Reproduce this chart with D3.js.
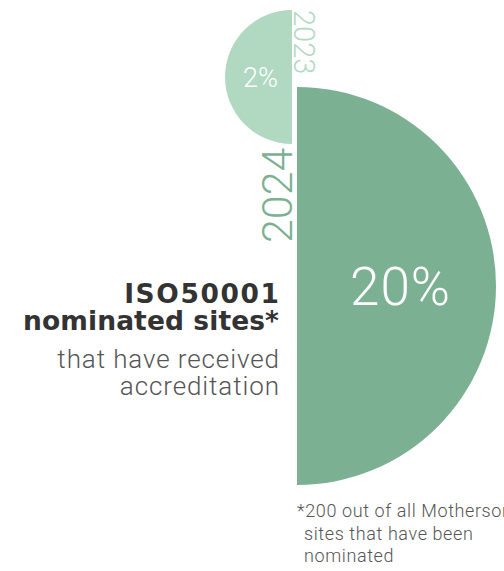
<!DOCTYPE html>
<html>
<head>
<meta charset="utf-8">
<script src="https://cdn.jsdelivr.net/npm/d3@7"></script>
<style>
  html, body { margin: 0; padding: 0; background: #fff; }
  svg { display: block; }
</style>
</head>
<body>
<div id="chart"></div>
<script>
// ---- data ----
const years = ["2023", "2024"];
const values = [2, 20];
const valueLabels = ["2%", "20%"];
const titleLines = ["ISO50001", "nominated sites*"];
const subtitleLines = ["that have received", "accreditation"];
const footnoteLines = ["*200 out of all Motherson", "sites that have been", "nominated"];

// ---- layout ----
const W = 504, H = 571;
const colors = ["#b1d9c2", "#7bb192"];
const thin = "Roboto, 'Open Sans', sans-serif";

const svg = d3.select("#chart").append("svg")
  .attr("width", W).attr("height", H);

const r = d3.scalePow().exponent(0.473).domain([0, 20]).range([0, 199]);

// 2023 : left half, 2024 : right half
const r0 = r(values[0]), r1 = r(values[1]);
const c0 = { x: 292, y: 10 + r0 };
const c1 = { x: 297, y: c0.y + 10 + r1 };

const arc = d3.arc().innerRadius(0);

// 2023 half
svg.append("path")
  .attr("transform", `translate(${c0.x},${c0.y})`)
  .attr("d", arc({ outerRadius: r0, startAngle: Math.PI, endAngle: 2 * Math.PI }))
  .attr("fill", colors[0]);

// 2024 half
svg.append("path")
  .attr("transform", `translate(${c1.x},${c1.y})`)
  .attr("d", arc({ outerRadius: r1, startAngle: 0, endAngle: Math.PI }))
  .attr("fill", colors[1]);

// value labels
svg.append("text")
  .attr("x", c0.x - r0 * 0.47).attr("y", c0.y + 10)
  .attr("text-anchor", "middle")
  .attr("font-family", thin).attr("font-weight", 300)
  .attr("font-size", 27).attr("fill", "#fff")
  .text(valueLabels[0]);

svg.append("text")
  .attr("x", c1.x + r1 * 0.52).attr("y", c1.y + 19)
  .attr("text-anchor", "middle")
  .attr("font-family", thin).attr("font-weight", 300)
  .attr("font-size", 53).attr("letter-spacing", 1).attr("fill", "#fff")
  .text(valueLabels[1]);

// year labels
svg.append("text")
  .attr("transform", `translate(${c0.x + 2},10) rotate(90)`)
  .attr("text-anchor", "start")
  .attr("font-family", thin).attr("font-weight", 300)
  .attr("font-size", 29).attr("fill", colors[0])
  .text(years[0]);

svg.append("text")
  .attr("transform", `translate(${c0.x},243) rotate(-90)`)
  .attr("text-anchor", "start")
  .attr("font-family", thin).attr("font-weight", 300)
  .attr("font-size", 43).attr("fill", colors[1])
  .text(years[1]);

// left label
const lx = 279;
const titleSpacing = [1.6, 0.1];
svg.append("g").selectAll("text").data(titleLines).join("text")
  .attr("x", (d, i) => lx + titleSpacing[i]).attr("y", (d, i) => 303 + i * 27)
  .attr("text-anchor", "end")
  .attr("font-family", "'DejaVu Sans', sans-serif").attr("font-weight", 700)
  .attr("font-size", 26.5).attr("letter-spacing", (d, i) => titleSpacing[i])
  .attr("fill", "#333")
  .text(d => d);

svg.append("g").selectAll("text").data(subtitleLines).join("text")
  .attr("x", lx + 0.9).attr("y", (d, i) => 368 + i * 27)
  .attr("text-anchor", "end")
  .attr("font-family", thin).attr("font-weight", 300)
  .attr("font-size", 26).attr("letter-spacing", 0.9).attr("fill", "#555")
  .text(d => d);

// footnote
svg.append("g").selectAll("text").data(footnoteLines).join("text")
  .attr("x", (d, i) => i === 0 ? 297 : 304)
  .attr("y", (d, i) => 517 + i * 22.5)
  .attr("font-family", thin).attr("font-weight", 300)
  .attr("font-size", 18).attr("letter-spacing", 0.6).attr("fill", "#555")
  .text(d => d);
</script>
</body>
</html>
